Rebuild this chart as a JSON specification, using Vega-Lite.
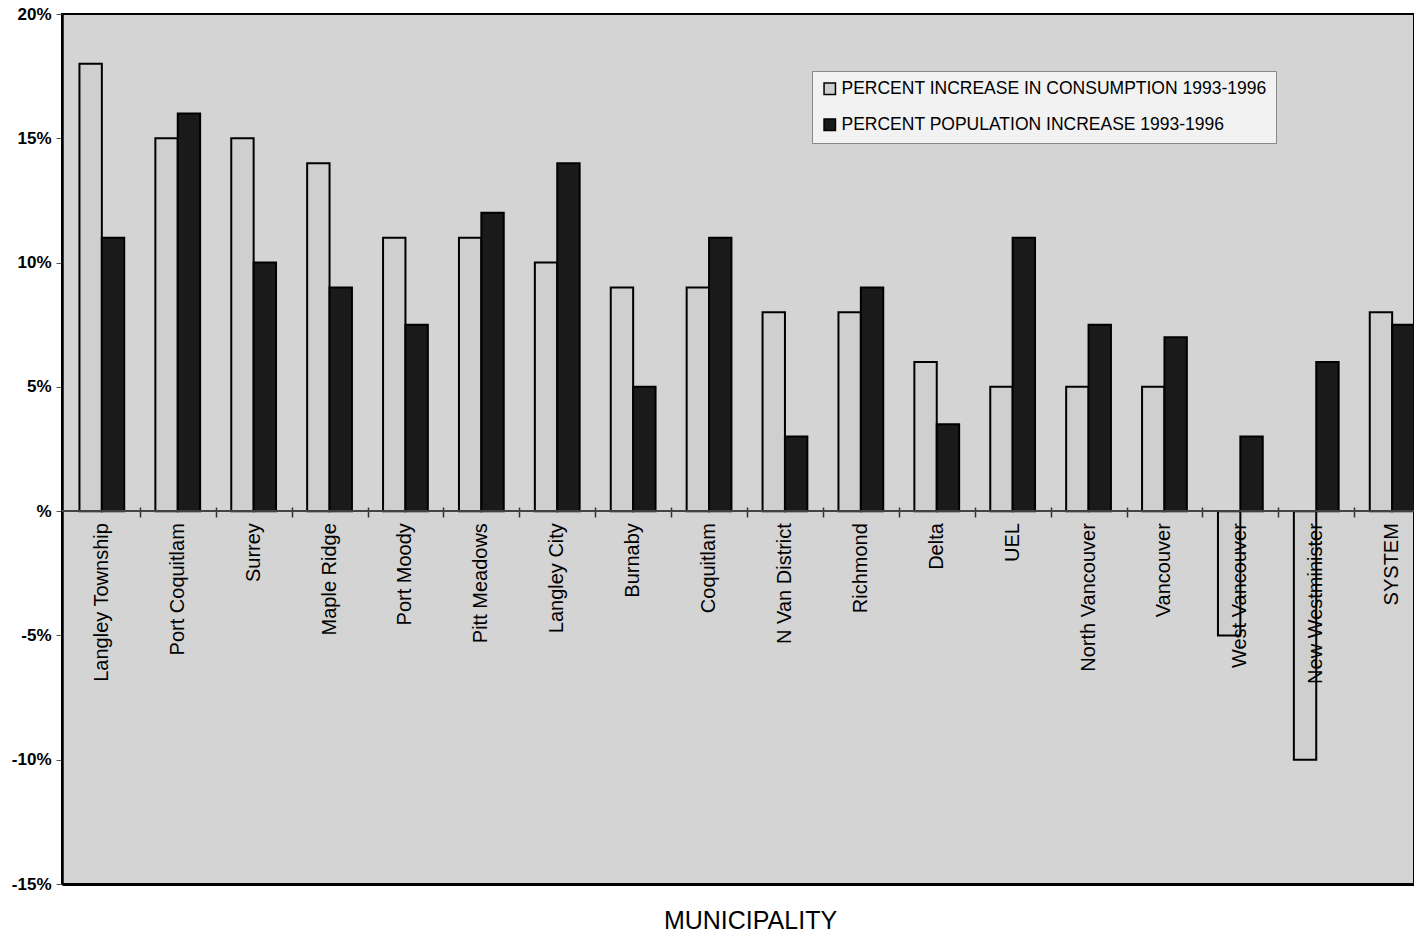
{
  "$schema": "https://vega.github.io/schema/vega-lite/v6.json",
  "width": 1352,
  "height": 870,
  "autosize": {"type": "none"},
  "padding": {"left": 62, "top": 14, "right": 0, "bottom": 50},
  "background": "#ffffff",
  "config": {
    "font": "Liberation Sans",
    "view": {"fill": "#d4d4d4", "stroke": "#000000", "strokeWidth": 2}
  },
  "data": {
    "values": [
      {"municipality": "Langley Township", "series": "PERCENT INCREASE IN CONSUMPTION 1993-1996", "value": 18},
      {"municipality": "Langley Township", "series": "PERCENT POPULATION INCREASE 1993-1996", "value": 11},
      {"municipality": "Port Coquitlam", "series": "PERCENT INCREASE IN CONSUMPTION 1993-1996", "value": 15},
      {"municipality": "Port Coquitlam", "series": "PERCENT POPULATION INCREASE 1993-1996", "value": 16},
      {"municipality": "Surrey", "series": "PERCENT INCREASE IN CONSUMPTION 1993-1996", "value": 15},
      {"municipality": "Surrey", "series": "PERCENT POPULATION INCREASE 1993-1996", "value": 10},
      {"municipality": "Maple Ridge", "series": "PERCENT INCREASE IN CONSUMPTION 1993-1996", "value": 14},
      {"municipality": "Maple Ridge", "series": "PERCENT POPULATION INCREASE 1993-1996", "value": 9},
      {"municipality": "Port Moody", "series": "PERCENT INCREASE IN CONSUMPTION 1993-1996", "value": 11},
      {"municipality": "Port Moody", "series": "PERCENT POPULATION INCREASE 1993-1996", "value": 7.5},
      {"municipality": "Pitt Meadows", "series": "PERCENT INCREASE IN CONSUMPTION 1993-1996", "value": 11},
      {"municipality": "Pitt Meadows", "series": "PERCENT POPULATION INCREASE 1993-1996", "value": 12},
      {"municipality": "Langley City", "series": "PERCENT INCREASE IN CONSUMPTION 1993-1996", "value": 10},
      {"municipality": "Langley City", "series": "PERCENT POPULATION INCREASE 1993-1996", "value": 14},
      {"municipality": "Burnaby", "series": "PERCENT INCREASE IN CONSUMPTION 1993-1996", "value": 9},
      {"municipality": "Burnaby", "series": "PERCENT POPULATION INCREASE 1993-1996", "value": 5},
      {"municipality": "Coquitlam", "series": "PERCENT INCREASE IN CONSUMPTION 1993-1996", "value": 9},
      {"municipality": "Coquitlam", "series": "PERCENT POPULATION INCREASE 1993-1996", "value": 11},
      {"municipality": "N Van District", "series": "PERCENT INCREASE IN CONSUMPTION 1993-1996", "value": 8},
      {"municipality": "N Van District", "series": "PERCENT POPULATION INCREASE 1993-1996", "value": 3},
      {"municipality": "Richmond", "series": "PERCENT INCREASE IN CONSUMPTION 1993-1996", "value": 8},
      {"municipality": "Richmond", "series": "PERCENT POPULATION INCREASE 1993-1996", "value": 9},
      {"municipality": "Delta", "series": "PERCENT INCREASE IN CONSUMPTION 1993-1996", "value": 6},
      {"municipality": "Delta", "series": "PERCENT POPULATION INCREASE 1993-1996", "value": 3.5},
      {"municipality": "UEL", "series": "PERCENT INCREASE IN CONSUMPTION 1993-1996", "value": 5},
      {"municipality": "UEL", "series": "PERCENT POPULATION INCREASE 1993-1996", "value": 11},
      {"municipality": "North Vancouver", "series": "PERCENT INCREASE IN CONSUMPTION 1993-1996", "value": 5},
      {"municipality": "North Vancouver", "series": "PERCENT POPULATION INCREASE 1993-1996", "value": 7.5},
      {"municipality": "Vancouver", "series": "PERCENT INCREASE IN CONSUMPTION 1993-1996", "value": 5},
      {"municipality": "Vancouver", "series": "PERCENT POPULATION INCREASE 1993-1996", "value": 7},
      {"municipality": "West Vancouver", "series": "PERCENT INCREASE IN CONSUMPTION 1993-1996", "value": -5},
      {"municipality": "West Vancouver", "series": "PERCENT POPULATION INCREASE 1993-1996", "value": 3},
      {"municipality": "New Westminister", "series": "PERCENT INCREASE IN CONSUMPTION 1993-1996", "value": -10},
      {"municipality": "New Westminister", "series": "PERCENT POPULATION INCREASE 1993-1996", "value": 6},
      {"municipality": "SYSTEM", "series": "PERCENT INCREASE IN CONSUMPTION 1993-1996", "value": 8},
      {"municipality": "SYSTEM", "series": "PERCENT POPULATION INCREASE 1993-1996", "value": 7.5}
    ]
  },
  "resolve": {"axis": {"x": "independent"}},
  "layer": [
    {
      "mark": {"type": "bar", "stroke": "#000000", "strokeWidth": 2},
      "encoding": {
        "x": {
          "field": "municipality",
          "type": "nominal",
          "sort": null,
          "scale": {"range": [0, 1370], "paddingInner": 0.41, "paddingOuter": 0.23},
          "axis": {
            "orient": "bottom",
            "labels": false,
            "ticks": false,
            "domain": true,
            "domainColor": "#000000",
            "domainWidth": 3,
            "title": "MUNICIPALITY",
            "titleFont": "Liberation Sans",
            "titleFontSize": 25,
            "titleFontWeight": "normal",
            "titleColor": "#000000",
            "titlePadding": 24,
            "titleX": 688
          }
        },
        "xOffset": {"field": "series", "type": "nominal", "scale": {"paddingInner": 0, "paddingOuter": 0}},
        "y": {
          "field": "value",
          "type": "quantitative",
          "scale": {"domain": [-15, 20], "nice": false, "zero": false},
          "axis": {
            "values": [-15, -10, -5, 0, 5, 10, 15, 20],
            "labelExpr": "datum.value == 0 ? '%' : datum.value + '%'",
            "grid": false,
            "domainColor": "#000000",
            "domainWidth": 2.5,
            "tickColor": "#555555",
            "tickSize": 6,
            "labelFont": "Liberation Sans",
            "labelFontSize": 17,
            "labelFontWeight": "bold",
            "labelColor": "#000000",
            "labelPadding": 5,
            "title": null
          }
        },
        "color": {
          "field": "series",
          "type": "nominal",
          "scale": {"range": ["#cfcfcf", "#1a1a1a"]},
          "legend": {
            "title": null,
            "orient": "none",
            "legendX": 750,
            "legendY": 57,
            "direction": "vertical",
            "fillColor": "#f2f2f2",
            "strokeColor": "#888888",
            "padding": 9,
            "rowPadding": 17,
            "symbolType": "square",
            "symbolSize": 130,
            "symbolStrokeColor": "#000000",
            "symbolStrokeWidth": 1.5,
            "symbolOpacity": 1,
            "labelFont": "Liberation Sans",
            "labelFontSize": 17.5,
            "labelColor": "#000000",
            "labelOffset": 3,
            "labelLimit": 600
          }
        }
      }
    },
    {
      "mark": {"type": "rule", "color": "#444444", "strokeWidth": 1},
      "encoding": {"y": {"datum": 0}}
    },
    {
      "transform": [{"filter": "datum.series == 'PERCENT INCREASE IN CONSUMPTION 1993-1996'"}],
      "mark": {
        "type": "text",
        "angle": 270,
        "align": "right",
        "baseline": "middle",
        "dx": -12,
        "font": "Liberation Sans",
        "fontSize": 20,
        "color": "#000000"
      },
      "encoding": {
        "x": {
          "field": "municipality",
          "type": "nominal",
          "sort": null,
          "axis": {
            "orient": "bottom",
            "offset": -377,
            "labels": false,
            "domain": false,
            "ticks": true,
            "tickSize": 10,
            "tickWidth": 1.5,
            "tickColor": "#333333",
            "tickOffset": 38,
            "grid": false,
            "title": null
          }
        },
        "text": {"field": "municipality"},
        "y": {"datum": 0}
      }
    }
  ]
}
